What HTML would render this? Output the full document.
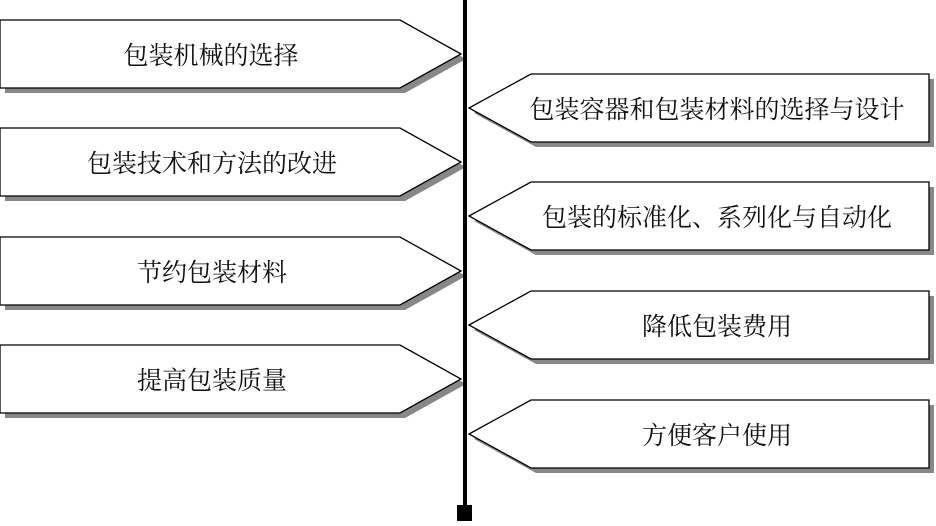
<!DOCTYPE html>
<html><head><meta charset="utf-8"><style>
body{margin:0;background:#fff;}
svg text{font-family:"Noto Serif CJK SC","Liberation Serif",serif;font-size:25px;fill:#111;text-anchor:middle;dominant-baseline:central;}
</style></head><body>
<svg width="936" height="521" viewBox="0 0 936 521" xmlns="http://www.w3.org/2000/svg">
<defs>
<g id="L"><polygon points="5,5 405,5 466,39 405,73 5,73" fill="#888"/><polygon points="0,0 400,0 461,34 400,68 0,68" fill="#fff" stroke="#000" stroke-width="1.3"/></g>
<g id="R"><polygon points="474,39 536,5 934,5 934,73 536,73" fill="#888"/><polygon points="469,34 531,0 929,0 929,68 531,68" fill="#fff" stroke="#000" stroke-width="1.3"/></g>
</defs>
<use href="#L" y="20"/><use href="#L" y="128"/><use href="#L" y="237"/><use href="#L" y="345"/>
<use href="#R" y="74"/><use href="#R" y="182"/><use href="#R" y="291"/><use href="#R" y="400"/>
<rect x="463" y="0" width="4" height="510" fill="#000"/>
<rect x="457" y="505" width="15" height="16" fill="#000"/>
<text x="211" y="54">包装机械的选择</text>
<text x="212" y="162">包装技术和方法的改进</text>
<text x="212" y="271">节约包装材料</text>
<text x="212" y="379">提高包装质量</text>
<text x="717" y="108">包装容器和包装材料的选择与设计</text>
<text x="717" y="216">包装的标准化、系列化与自动化</text>
<text x="717" y="325">降低包装费用</text>
<text x="717" y="434">方便客户使用</text>
</svg>
</body></html>
